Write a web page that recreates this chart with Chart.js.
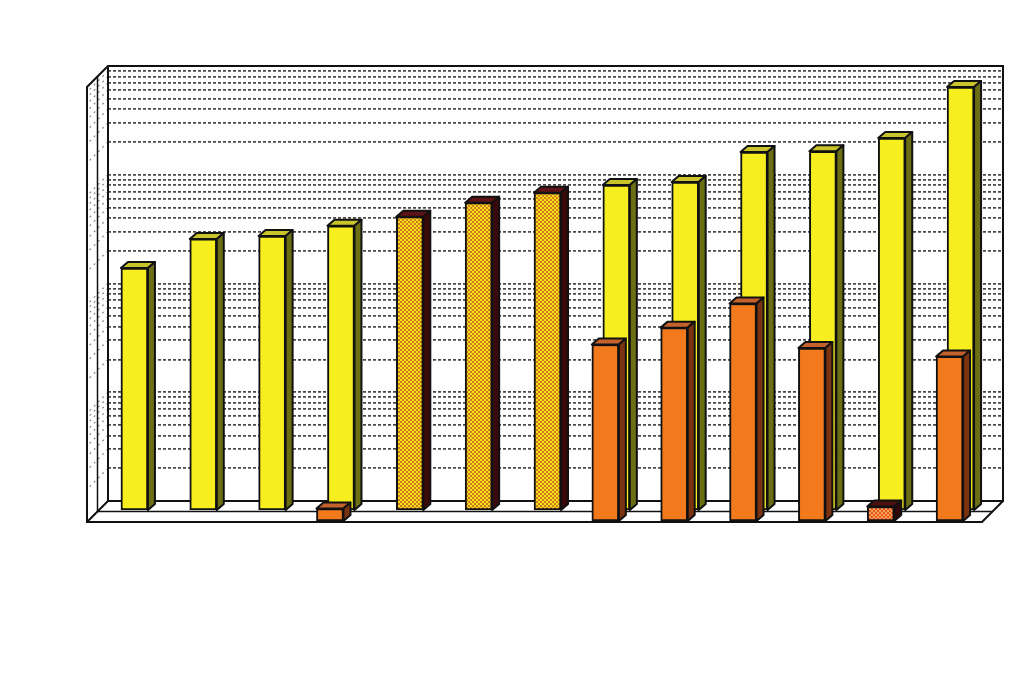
<!DOCTYPE html>
<html>
<head>
<meta charset="utf-8">
<script src="https://cdn.jsdelivr.net/npm/chart.js@4.4.0/dist/chart.umd.min.js"></script>
<style>
  html, body { margin: 0; padding: 0; background: #fff; }
  #wrap { width: 1024px; height: 688px; }
</style>
</head>
<body>
<div id="wrap"><canvas id="bars3d" width="1024" height="688"></canvas></div>
<script>
// values (log axis, no labels shown)
const categories = ["1", "2", "3", "4", "5", "6", "7", "8", "9", "10", "11", "12", "13"];
const backRow = [168, 311, 331, 411, 498, 670, 828, 974, 1038, 1960, 1990, 2635, 7760];
const frontRow = [null, null, null, 1.3, null, null, null, 42, 60, 100, 39, 1.36, 32.6];
const gridValues = [
  1, 2, 3, 4, 5, 6, 7, 8, 9,
  10, 20, 30, 40, 50, 60, 70, 80, 90,
  100, 200, 300, 400, 500, 600, 700, 800, 900,
  1000, 2000, 3000, 4000, 5000, 6000, 7000, 8000, 9000,
  10000
];
// which bars carry the checkered fill
const backChecked = [4, 5, 6];
const frontChecked = [11];

const canvas = document.getElementById("bars3d");
const ctx0 = canvas.getContext("2d");

function checker(base, dot) {
  const c = document.createElement("canvas");
  c.width = 4;
  c.height = 4;
  const g = c.getContext("2d");
  g.fillStyle = base;
  g.fillRect(0, 0, 4, 4);
  g.fillStyle = dot;
  g.fillRect(0, 0, 2, 2);
  g.fillRect(2, 2, 2, 2);
  return ctx0.createPattern(c, "repeat");
}

const yellowCheck = checker("#f8e01c", "#cf7a1c");
const orangeCheck = checker("#ec561c", "#f4a45a");

function pick(list, idx, a, b) {
  return list.includes(idx) ? a : b;
}

const backFront = categories.map((c, i) => pick(backChecked, i, yellowCheck, "#f6ee1e"));
const backTop = categories.map((c, i) => pick(backChecked, i, "#5e1416", "#c8c42a"));
const backSide = categories.map((c, i) => pick(backChecked, i, "#3a0a0a", "#6c6e14"));
const frontFront = categories.map((c, i) => pick(frontChecked, i, orangeCheck, "#f27a1c"));
const frontTop = categories.map((c, i) => pick(frontChecked, i, "#4e1010", "#c4612c"));
const frontSide = categories.map((c, i) => pick(frontChecked, i, "#300808", "#7a3412"));

const depth = { dx: 7, dy: 6 };

function poly(ctx, pts, fill) {
  ctx.beginPath();
  ctx.moveTo(pts[0][0], pts[0][1]);
  for (let k = 1; k < pts.length; k++) ctx.lineTo(pts[k][0], pts[k][1]);
  ctx.closePath();
  ctx.fillStyle = fill;
  ctx.fill();
  ctx.stroke();
}

const walls = {
  id: "walls",
  beforeDatasetsDraw(chart) {
    const ctx = chart.ctx;
    const a = chart.chartArea;
    const y = chart.scales.y;
    ctx.save();
    // grid continued on the side wall
    ctx.strokeStyle = "#888";
    ctx.lineWidth = 1.2;
    ctx.setLineDash([2, 4]);
    gridValues.forEach(v => {
      const py = y.getPixelForValue(v);
      ctx.beginPath();
      ctx.moveTo(a.left, py);
      ctx.lineTo(a.left - 21, py + 21);
      ctx.stroke();
    });
    ctx.setLineDash([]);
    ctx.strokeStyle = "#111";
    ctx.lineWidth = 2;
    ctx.strokeRect(a.left, a.top, a.right - a.left, a.bottom - a.top);
    ctx.beginPath();
    ctx.moveTo(a.left, a.top);
    ctx.lineTo(a.left - 21, a.top + 21);
    ctx.lineTo(a.left - 21, a.bottom + 21);
    ctx.lineTo(a.right - 21, a.bottom + 21);
    ctx.lineTo(a.right, a.bottom);
    ctx.moveTo(a.left, a.bottom);
    ctx.lineTo(a.left - 21, a.bottom + 21);
    ctx.stroke();
    ctx.lineWidth = 1.5;
    ctx.beginPath();
    ctx.moveTo(a.left - 10.5, a.top + 10.5);
    ctx.lineTo(a.left - 10.5, a.bottom + 10.5);
    ctx.lineTo(a.right - 10.5, a.bottom + 10.5);
    ctx.stroke();
    ctx.restore();
  },
  beforeDatasetDraw(chart, args) {
    const ds = chart.data.datasets[args.index];
    chart.ctx.save();
    chart.ctx.translate(ds.rowShift.dx, ds.rowShift.dy);
  },
  afterDatasetDraw(chart, args) {
    const ctx = chart.ctx;
    const ds = chart.data.datasets[args.index];
    ctx.strokeStyle = "#111";
    ctx.lineWidth = 2;
    ctx.lineJoin = "round";
    args.meta.data.forEach((bar, i) => {
      if (ds.data[i] == null) return;
      const p = bar.getProps(["x", "y", "base", "width"], true);
      const l = p.x - p.width / 2;
      const r = p.x + p.width / 2;
      poly(ctx, [[l, p.y], [l + depth.dx, p.y - depth.dy], [r + depth.dx, p.y - depth.dy], [r, p.y]], ds.topColors[i]);
      poly(ctx, [[r, p.y], [r + depth.dx, p.y - depth.dy], [r + depth.dx, p.base - depth.dy], [r, p.base]], ds.sideColors[i]);
    });
    ctx.restore();
  }
};

const config = {
  type: "bar",
  data: {
    labels: categories,
    datasets: [
      {
        label: "front",
        data: frontRow,
        backgroundColor: frontFront,
        topColors: frontTop,
        sideColors: frontSide,
        rowShift: { dx: -19, dy: 20 },
        order: 1
      },
      {
        label: "back",
        data: backRow,
        backgroundColor: backFront,
        topColors: backTop,
        sideColors: backSide,
        rowShift: { dx: -8, dy: 9 },
        order: 2
      }
    ]
  },
  options: {
    responsive: false,
    animation: false,
    devicePixelRatio: 1,
    layout: { padding: { left: 108, right: 21, top: 66, bottom: 187 } },
    datasets: {
      bar: {
        grouped: false,
        barThickness: 27,
        borderColor: "#111",
        borderWidth: 2,
        borderSkipped: false,
        clip: false
      }
    },
    plugins: {
      legend: { display: false },
      tooltip: { enabled: false },
      title: { display: false }
    },
    scales: {
      x: { display: false },
      y: {
        type: "logarithmic",
        min: 1,
        max: 10000,
        afterBuildTicks: (scale) => {
          scale.ticks = gridValues.map(v => ({ value: v }));
        },
        ticks: { display: false },
        grid: { color: "#4a4a4a", lineWidth: 1.8, drawTicks: false },
        border: { display: false, dash: [3, 2] }
      }
    }
  },
  plugins: [walls]
};

let myChart = new Chart(canvas, config);
</script>
</body>
</html>
